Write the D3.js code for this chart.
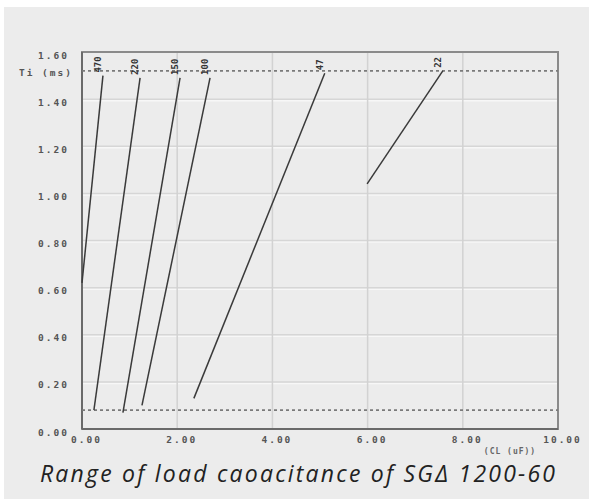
<!DOCTYPE html>
<html><head><meta charset="utf-8">
<script src="https://cdn.jsdelivr.net/npm/d3@7"></script>
<style>html,body{margin:0;padding:0;background:#fff}svg{display:block}</style>
</head><body>
<script>
// ---- data ----
const xTicks = [0, 2, 4, 6, 8, 10];
const xTickLabels = ["0.00", "2.00", "4.00", "6.00", "8.00", "10.00"];
const yTicks = [0, 0.2, 0.4, 0.6, 0.8, 1.0, 1.2, 1.4, 1.6];
const yTickLabels = ["0.00", "0.20", "0.40", "0.60", "0.80", "1.00", "1.20", "1.40", "1.60"];
const seriesNames = ["470", "220", "150", "100", "47", "22"];
const seriesStartX = [0.00, 0.25, 0.86, 1.26, 2.35, 5.99];
const seriesStartY = [0.62, 0.08, 0.07, 0.10, 0.13, 1.04];
const seriesEndX   = [0.44, 1.22, 2.06, 2.69, 5.10, 7.58];
const seriesEndY   = [1.50, 1.49, 1.49, 1.49, 1.51, 1.52];
const limitLines = [1.52, 0.08];
const yTitle = "Ti (ms)";
const xTitle = "(CL (uF))";
const caption = "Range of load caoacitance of SG\u0394 1200-60";

const W = 589, H = 499;
const svg = d3.select("body").append("svg").attr("width", W).attr("height", H);
svg.append("rect").attr("width", W).attr("height", H).attr("fill", "#fff");
svg.append("rect").attr("x", 4).attr("y", 7).attr("width", W - 4).attr("height", H - 7).attr("fill", "#ececec");

const x = d3.scaleLinear().domain([0, 10]).range([82, 558]);
const y = d3.scaleLinear().domain([0, 1.6]).range([429, 52]);

const tickFont = sel => sel.attr("font-family", "DejaVu Sans Mono").attr("font-weight", "bold")
  .attr("font-size", 9.5).attr("letter-spacing", 2).attr("fill", "#555");

const g = svg.append("g");
// grid
g.selectAll(".hgw").data(yTicks.slice(1, -1)).join("line")
  .attr("x1", x(0)).attr("x2", x(10)).attr("y1", d => y(d) + 1.5).attr("y2", d => y(d) + 1.5)
  .attr("stroke", "#f7f7f7").attr("stroke-width", 1.5);
g.selectAll(".hg").data(yTicks.slice(1, -1)).join("line")
  .attr("x1", x(0)).attr("x2", x(10)).attr("y1", d => y(d)).attr("y2", d => y(d))
  .attr("stroke", "#d6d6d6").attr("stroke-width", 1.5);
g.selectAll(".vg").data(xTicks.slice(1, -1)).join("line")
  .attr("y1", y(0)).attr("y2", y(1.6)).attr("x1", d => x(d)).attr("x2", d => x(d))
  .attr("stroke", "#d2d2d2").attr("stroke-width", 1.5);

// frame
g.append("rect").attr("x", x(0)).attr("y", y(1.6)).attr("width", x(10) - x(0)).attr("height", y(0) - y(1.6))
  .attr("fill", "none").attr("stroke", "#8a8a8a").attr("stroke-width", 2);
g.append("line").attr("x1", x(0)).attr("x2", x(0)).attr("y1", y(1.6)).attr("y2", y(0)).attr("stroke", "#6a6a6a").attr("stroke-width", 2);
g.append("line").attr("x1", x(0)).attr("x2", x(10)).attr("y1", y(0)).attr("y2", y(0)).attr("stroke", "#6a6a6a").attr("stroke-width", 2);

// limit lines
g.selectAll(".lim").data(limitLines).join("line")
  .attr("x1", x(0)).attr("x2", x(10)).attr("y1", d => y(d)).attr("y2", d => y(d))
  .attr("stroke", "#7a7a7a").attr("stroke-width", 1.6).attr("stroke-dasharray", "3,3");

// axes
const yAxis = d3.axisLeft(y).tickValues(yTicks).tickFormat((d, i) => yTickLabels[i]).tickSize(0).tickPadding(13);
const ya = svg.append("g").attr("transform", `translate(${x(0)},3)`).call(yAxis);
const xAxis = d3.axisBottom(x).tickValues(xTicks).tickFormat((d, i) => xTickLabels[i]).tickSize(0).tickPadding(7);
const xa = svg.append("g").attr("transform", `translate(4,${y(0)})`).call(xAxis);
[ya, xa].forEach(a => { a.select(".domain").remove(); tickFont(a.selectAll("text")); });
svg.append("text").attr("x", 73).attr("y", y(limitLines[0]) + 5).attr("text-anchor", "end")
  .call(tickFont).text(yTitle);
svg.append("text").attr("x", 510).attr("y", 454).attr("text-anchor", "middle")
  .attr("font-family", "DejaVu Sans Mono").attr("font-weight", "bold").attr("font-size", 8)
  .attr("letter-spacing", 1).attr("fill", "#666").text(xTitle);

// series lines
seriesNames.forEach((n, i) => {
  g.append("line")
    .attr("x1", x(seriesStartX[i])).attr("y1", y(seriesStartY[i]))
    .attr("x2", x(seriesEndX[i])).attr("y2", y(seriesEndY[i]))
    .attr("stroke", "#3a3a3a").attr("stroke-width", 1.5);
  const lx = x(seriesEndX[i]) - 5, ly = y(seriesEndY[i]) - 3;
  g.append("text").attr("transform", `translate(${lx},${ly}) rotate(-90)`)
    .attr("font-family", "DejaVu Sans Mono").attr("font-weight", "bold").attr("font-size", 9)
    .attr("fill", "#333").attr("dy", "0.35em").text(n);
});

// caption
svg.append("text").attr("x", 40).attr("y", 482)
  .attr("font-family", "Open Sans").attr("font-style", "italic").attr("font-size", 23)
  .attr("textLength", 515).attr("lengthAdjust", "spacing")
  .attr("fill", "#222").text(caption);
</script>
</body></html>
